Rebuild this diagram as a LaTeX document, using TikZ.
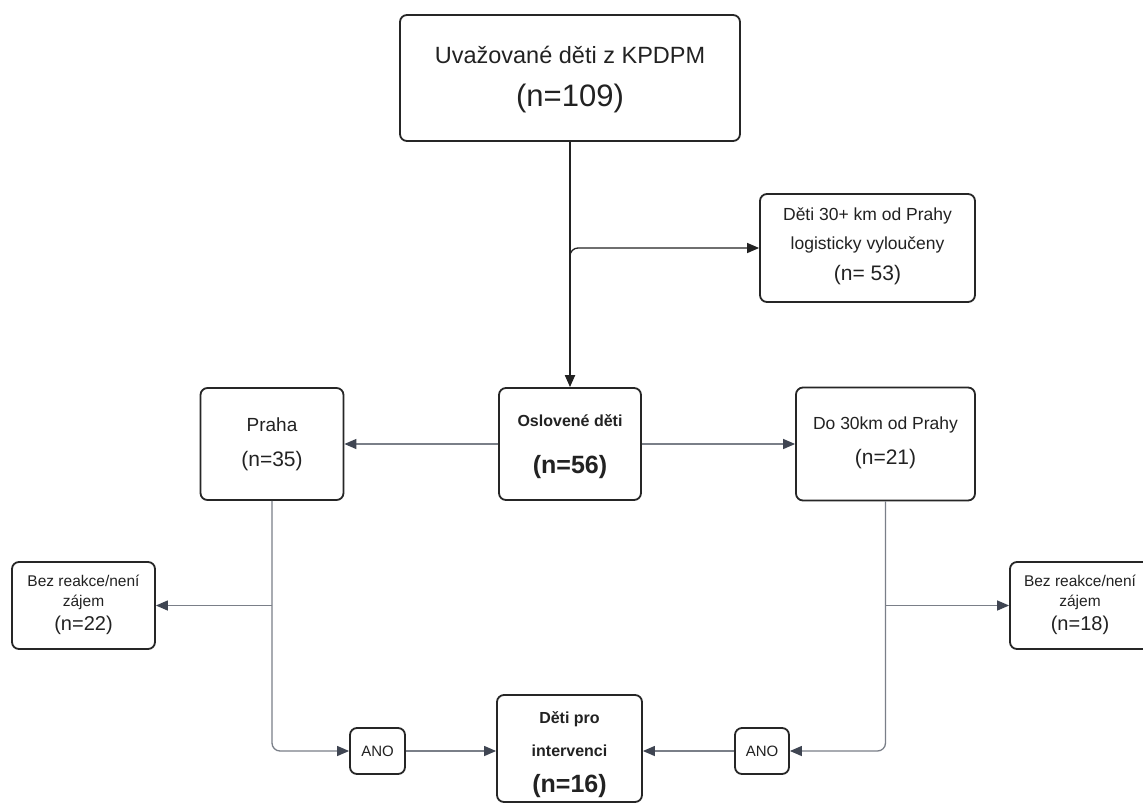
\documentclass[tikz,border=0pt]{standalone}
\usepackage{fontspec}
\setmainfont{Liberation Sans}
\usetikzlibrary{arrows.meta,calc}
\definecolor{ink}{HTML}{222222}
\definecolor{boxline}{HTML}{262626}
\definecolor{wire}{HTML}{7A7F88}
\definecolor{tipc}{HTML}{3F4552}
\newcommand{\fs}[1]{\fontsize{#1}{#1}\selectfont}
\tikzset{
  flowbox/.style={draw=boxline, line width=1.8pt, rounded corners=7pt, fill=white,
    inner sep=0pt, anchor=center},
  txt/.style={text=ink, inner sep=0pt, anchor=center, align=center},
  mainflow/.style={draw=ink, line width=2pt, -{Triangle[length=12pt,width=10pt,color=ink]}},
  sideflow/.style={draw=ink, line width=1.3pt, rounded corners=8pt, -{Triangle[length=12pt,width=10pt,color=ink]}},
  greyflow/.style={draw=wire, line width=1.3pt, rounded corners=8pt, -{Triangle[length=12pt,width=10pt,color=tipc]}},
  greyline/.style={draw=wire, line width=1.3pt}
}
\begin{document}
\begin{tikzpicture}[x=1pt,y=-1pt]
\useasboundingbox (0,0) rectangle (1143,803);
\fill[white] (0,0) rectangle (1143,803);

% boxes (centre, width, height)
\node[flowbox, minimum width=340pt, minimum height=126pt] (top)  at (570,78) {};
\node[flowbox, minimum width=215pt, minimum height=108pt] (excl) at (867.5,248) {};
\node[flowbox, minimum width=142pt, minimum height=112pt] (osl)  at (570,444) {};
\node[flowbox, minimum width=143pt, minimum height=112pt] (praha) at (272,444) {};
\node[flowbox, minimum width=179pt, minimum height=113pt] (do30) at (885.5,444) {};
\node[flowbox, minimum width=143pt, minimum height=87pt] (bez1) at (83.5,605.5) {};
\node[flowbox, minimum width=140pt, minimum height=87pt] (bez2) at (1080,605.5) {};
\node[flowbox, minimum width=145pt, minimum height=107pt] (dpi)  at (569.5,748.5) {};
\node[flowbox, minimum width=55pt, minimum height=46pt] (ano1) at (377.5,751) {};
\node[flowbox, minimum width=54pt, minimum height=46pt] (ano2) at (762,751) {};

% texts
\node[txt] (top-a) at (570,55) {\fs{23.5}Uvažované děti z KPDPM};
\node[txt] (top-b) at (570,98) {\fs{31}(n=109)};

\node[txt] (excl-a) at (867.5,216) {\fs{17.5}Děti 30+ km od Prahy};
\node[txt] (excl-b) at (867.5,245) {\fs{17.5}logisticky vyloučeny};
\node[txt] (excl-c) at (867.5,275) {\fs{21}(n= 53)};

\node[txt] (osl-a) at (570,421) {\fs{16}\bfseries Oslovené děti};
\node[txt] (osl-b) at (570,467) {\fs{25}\bfseries (n=56)};

\node[txt] (praha-a) at (272,425) {\fs{19}Praha};
\node[txt] (praha-b) at (272,461) {\fs{21}(n=35)};

\node[txt] (do30-a) at (885.5,425) {\fs{17.5}Do 30km od Prahy};
\node[txt] (do30-b) at (885.5,459) {\fs{21}(n=21)};

\node[txt] (bez1-a) at (83.5,581) {\fs{15.5}Bez reakce/není};
\node[txt] (bez1-b) at (83.5,602) {\fs{15.5}zájem};
\node[txt] (bez1-c) at (83.5,625) {\fs{20}(n=22)};

\node[txt] (bez2-a) at (1080,581) {\fs{15.5}Bez reakce/není};
\node[txt] (bez2-b) at (1080,602) {\fs{15.5}zájem};
\node[txt] (bez2-c) at (1080,625) {\fs{20}(n=18)};

\node[txt] (dpi-a) at (569.5,719) {\fs{16}\bfseries Děti pro};
\node[txt] (dpi-b) at (569.5,751) {\fs{16}\bfseries intervenci};
\node[txt] (dpi-c) at (569.5,786) {\fs{25}\bfseries (n=16)};

\node[txt] (ano1-t) at (377.5,751) {\fs{15}ANO};
\node[txt] (ano2-t) at (762,751) {\fs{15}ANO};

% junction points on the vertical lines
\coordinate (split) at (top.south |- excl.west);
\coordinate (lsplit) at (praha.south |- bez1.east);
\coordinate (rsplit) at (do30.south |- bez2.west);

% connectors
\draw[mainflow] (top.south) -- (osl.north);
\draw[sideflow] ($(split)+(0,10)$) -- (split) -- (excl.west);

\draw[greyflow] (osl.west) -- (praha.east);
\draw[greyflow] (osl.east) -- (do30.west);

\draw[greyflow] (praha.south) -- (praha.south |- ano1.west) -- (ano1.west);
\draw[greyflow] (lsplit) -- (bez1.east);
\draw[greyflow] (ano1.east) -- (ano1.east -| dpi.west);

\draw[greyflow] (do30.south) -- (do30.south |- ano2.east) -- (ano2.east);
\draw[greyflow] (rsplit) -- (bez2.west);
\draw[greyflow] (ano2.west) -- (ano2.west -| dpi.east);
\end{tikzpicture}
\end{document}
